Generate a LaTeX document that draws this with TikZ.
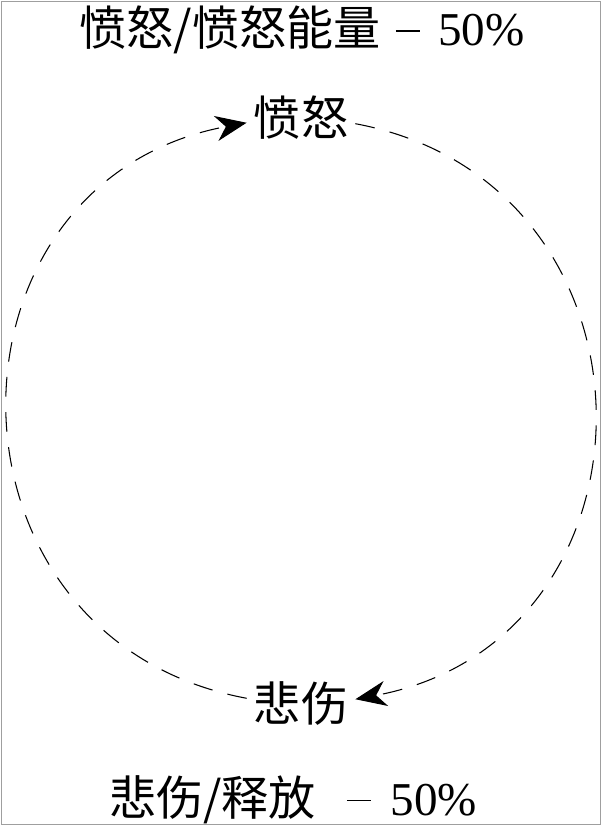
\documentclass[tikz,border=0pt]{standalone}
\usepackage{fontspec}
\setmainfont{Liberation Serif}
\newfontfamily\cjk{Noto Sans CJK SC}
\usetikzlibrary{arrows.meta}

\newcommand{\minusbar}{\rule[10pt]{17pt}{1.1pt}}

\tikzset{
  lbl/.style={font=\cjk\fontsize{33.5pt}{40pt}\selectfont, inner sep=5pt},
  ttl/.style={font=\fontsize{33.5pt}{40pt}\selectfont, inner sep=0pt},
  cyc/.style={draw=black, line width=0.75pt, dash pattern=on 14pt off 11pt,
    -{Stealth[length=22pt,width=18pt,inset=7pt]}, looseness=1.44}
}

\begin{document}
\begin{tikzpicture}
  \useasboundingbox (-7.475,-10.375) rectangle (7.575,10.275);
  \draw[gray!75, line width=0.8pt] (-7.445,-10.345) rectangle (7.545,10.245);

  % titles
  \node[ttl] (top) at (0.075,9.525) {{\cjk 愤怒/愤怒能量}\hspace{11pt}\minusbar\hspace{13pt}50\%};
  \node[ttl] (bottom) at (-0.15,-9.72) {{\cjk 悲伤/释放}\hspace{22pt}\minusbar\hspace{14pt}50\%};

  % cycle
  \node[lbl] (anger) at (0.05,7.325) {愤怒};
  \node[lbl] (sad) at (0.05,-7.325) {悲伤};

  \draw[cyc] (sad.174.7) to[out=169.4, in=190.6] (anger.185.3);
  \draw[cyc] (anger.354.7) to[out=-10.6, in=10.6] (sad.5.3);
\end{tikzpicture}
\end{document}
